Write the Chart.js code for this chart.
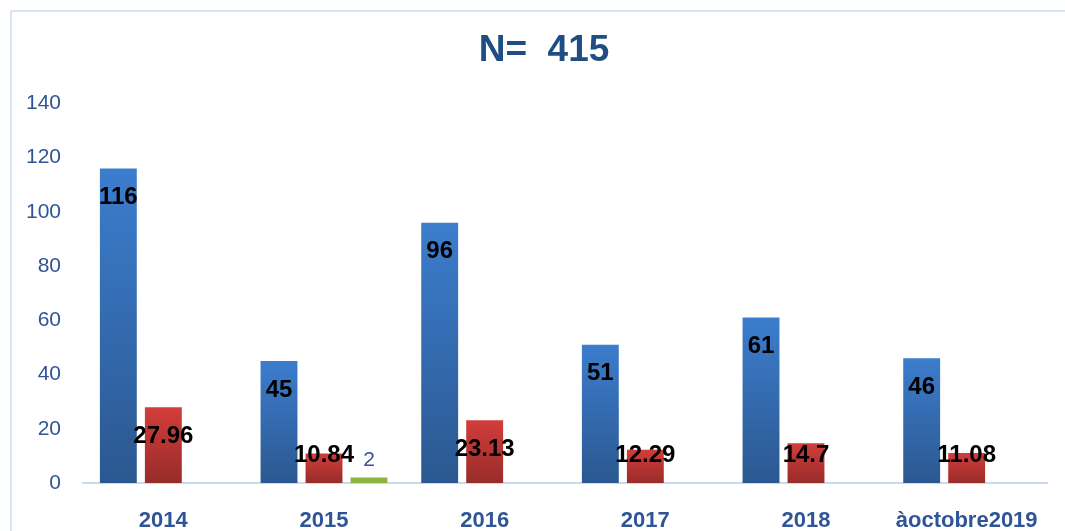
<!DOCTYPE html>
<html>
<head>
<meta charset="utf-8">
<script src="https://cdn.jsdelivr.net/npm/chart.js@4.4.1/dist/chart.umd.min.js"></script>
<style>
  html, body { margin: 0; padding: 0; background: #ffffff; overflow: hidden; }
  #wrap { position: relative; width: 1065px; height: 531px; }
  #frame { position: absolute; left: 10px; top: 10px; width: 1100px; height: 600px; border: 2px solid #d9e5f6; box-sizing: border-box; }
  #chart { position: absolute; left: 0; top: 0; }
</style>
</head>
<body>
<div id="wrap">
  <div id="frame"></div>
  <canvas id="chart" width="1065" height="531"></canvas>
</div>
<script>
// datos
const categories = ['2014', '2015', '2016', '2017', '2018', 'àoctobre2019'];
const serieBleue = [116, 45, 96, 51, 61, 46];
const serieRouge = [27.96, 10.84, 23.13, 12.29, 14.7, 11.08];
const serieVerte = [null, 2, null, null, null, null];
const yTicks = [0, 20, 40, 60, 80, 100, 120, 140];
const titre = 'N=  415';

const colorTexto = '#2f5597';
const fuenteTitulo = 'bold 37px "Liberation Sans", Arial, sans-serif';

// degradado por barra (arriba claro, abajo oscuro)
function barGradient(top, bottom, fallback) {
    return function(context) {
        if (context.type !== 'data') return fallback;
        const chart = context.chart;
        if (!chart.chartArea || context.raw == null) return fallback;
        const y = chart.scales.y;
        const yTop = y.getPixelForValue(context.raw);
        const yBase = y.getPixelForValue(0);
        if (!isFinite(yTop) || yBase - yTop < 1) return fallback;
        const g = chart.ctx.createLinearGradient(0, yTop, 0, yBase);
        g.addColorStop(0, top);
        g.addColorStop(1, bottom);
        return g;
    };
}

// etiquetas de valores + titulo (el titulo del plugin solo reserva el espacio)
const etiquetas = {
    id: 'etiquetas',
    afterDatasetsDraw(chart) {
        const ctx = chart.ctx;
        ctx.save();
        ctx.textAlign = 'center';
        ctx.textBaseline = 'middle';
        chart.data.datasets.forEach((ds, i) => {
            const meta = chart.getDatasetMeta(i);
            meta.data.forEach((bar, j) => {
                const v = ds.data[j];
                if (v == null) return;
                if (i === 2) {
                    ctx.font = '21px "Liberation Sans", Arial, sans-serif';
                    ctx.fillStyle = colorTexto;
                    ctx.fillText(String(v), bar.x, bar.y - 17);
                } else {
                    ctx.font = 'bold 24px "Liberation Sans", Arial, sans-serif';
                    ctx.fillStyle = '#000000';
                    const yl = Math.min(bar.y + 29, bar.base - 28);
                    ctx.fillText(String(v), bar.x, yl);
                }
            });
        });
        const t = chart.titleBlock;
        ctx.font = fuenteTitulo;
        ctx.fillStyle = '#1f4e85';
        ctx.fillText(titre, 544, t.top + 29 + 37 * 1.2 / 2);
        ctx.restore();
    }
};

const ctx = document.getElementById('chart');

new Chart(ctx, {
    type: 'bar',
    data: {
        labels: categories,
        datasets: [
            { label: 'A', data: serieBleue, backgroundColor: barGradient('#3c7dcd', '#2b5890', '#3468b0') },
            { label: 'B', data: serieRouge, backgroundColor: barGradient('#d23d3a', '#982c2a', '#b83533') },
            { label: 'C', data: serieVerte, backgroundColor: '#8cb441' }
        ]
    },
    options: {
        responsive: false,
        animation: false,
        layout: {
            padding: { left: 0, right: 18, top: 0, bottom: 0 }
        },
        datasets: {
            bar: {
                categoryPercentage: 0.84,
                barPercentage: 0.82
            }
        },
        scales: {
            x: {
                grid: { display: false, drawTicks: false },
                border: { display: true, color: '#cbdaef', width: 2 },
                ticks: {
                    padding: 25,
                    color: colorTexto,
                    font: { family: '"Liberation Sans", Arial, sans-serif', size: 22, weight: 'bold' }
                },
                afterFit: function(scale) { scale.height = 48; }
            },
            y: {
                min: 0,
                max: 140,
                afterBuildTicks: function(scale) {
                    scale.ticks = yTicks.map(v => ({ value: v }));
                },
                grid: { display: false, drawTicks: false },
                border: { display: false },
                ticks: {
                    padding: 22,
                    color: colorTexto,
                    font: { family: '"Liberation Sans", Arial, sans-serif', size: 21 }
                },
                afterFit: function(scale) { scale.width = 83; }
            }
        },
        plugins: {
            legend: { display: false },
            tooltip: { enabled: false },
            title: {
                display: true,
                text: titre,
                color: 'rgba(0,0,0,0)',
                font: { family: '"Liberation Sans", Arial, sans-serif', size: 37, weight: 'bold' },
                padding: { top: 29, bottom: 30 }
            }
        }
    },
    plugins: [etiquetas]
});
</script>
</body>
</html>
